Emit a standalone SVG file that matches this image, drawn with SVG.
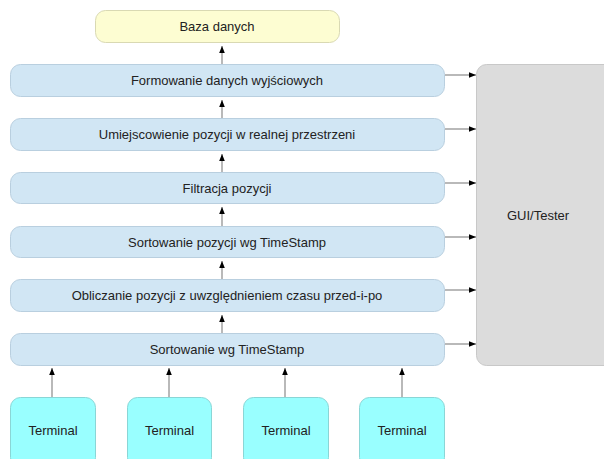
<svg xmlns="http://www.w3.org/2000/svg" width="604" height="459" viewBox="0 0 604 459">
<defs>
<style>
text{font-family:"Liberation Sans",Arial,sans-serif;font-size:13px;fill:#222;text-anchor:middle;dominant-baseline:central}
.layer{fill:#d1e6f4;stroke:#b9cfdf;stroke-width:1}
.db{fill:#fdfdd2;stroke:#d9d9b3;stroke-width:1}
.gui{fill:#dcdcdc;stroke:#c8c8c8;stroke-width:1}
.term{fill:#99ffff;stroke:#8ad6d6;stroke-width:1}
.conn{stroke:#8a8a8a;stroke-width:1.2;fill:none;marker-end:url(#ah)}
</style>
<marker id="ah" viewBox="0 0 10 10" refX="10" refY="5" markerWidth="8" markerHeight="7" markerUnits="userSpaceOnUse" orient="auto">
<path d="M0,1 L10,5 L0,9 Z" fill="#000"/>
</marker>
</defs>
<g id="baza"><rect class="db" x="95.5" y="10.5" width="244" height="32" rx="10"/><text x="217" y="26.5">Baza danych</text></g>
<g id="formowanie"><rect class="layer" x="10.5" y="64.5" width="434" height="32" rx="10"/><text x="227" y="80.5">Formowanie danych wyjściowych</text></g>
<g id="umiejscowienie"><rect class="layer" x="10.5" y="118.5" width="434" height="32" rx="10"/><text x="227" y="134.5">Umiejscowienie pozycji w realnej przestrzeni</text></g>
<g id="filtracja"><rect class="layer" x="10.5" y="172.5" width="434" height="31" rx="10"/><text x="227" y="188">Filtracja pozycji</text></g>
<g id="sortowanie-pozycji"><rect class="layer" x="10.5" y="226.5" width="434" height="31" rx="10"/><text x="227" y="242">Sortowanie pozycji wg TimeStamp</text></g>
<g id="obliczanie"><rect class="layer" x="10.5" y="279.5" width="434" height="32" rx="10"/><text x="227" y="295.5">Obliczanie pozycji z uwzględnieniem czasu przed-i-po</text></g>
<g id="sortowanie"><rect class="layer" x="10.5" y="333.5" width="434" height="32" rx="10"/><text x="227" y="349.5">Sortowanie wg TimeStamp</text></g>
<g id="gui"><rect class="gui" x="476.5" y="64.5" width="140" height="301" rx="10"/><text x="538" y="215">GUI/Tester</text></g>
<g id="terminal1"><rect class="term" x="10.5" y="397.5" width="85" height="70" rx="10"/><text x="53" y="430">Terminal</text></g>
<g id="terminal2"><rect class="term" x="127.5" y="397.5" width="84" height="70" rx="10"/><text x="169.5" y="430">Terminal</text></g>
<g id="terminal3"><rect class="term" x="243.5" y="397.5" width="85" height="70" rx="10"/><text x="286" y="430">Terminal</text></g>
<g id="terminal4"><rect class="term" x="359.5" y="397.5" width="85" height="70" rx="10"/><text x="402" y="430">Terminal</text></g>
<g id="connectors">
<line class="conn" x1="222" y1="64" x2="222" y2="46"/>
<line class="conn" x1="222" y1="118" x2="222" y2="100"/>
<line class="conn" x1="222" y1="172" x2="222" y2="154"/>
<line class="conn" x1="222" y1="226" x2="222" y2="207"/>
<line class="conn" x1="222" y1="279" x2="222" y2="261"/>
<line class="conn" x1="222" y1="333" x2="222" y2="315"/>
<line class="conn" x1="52" y1="397" x2="52" y2="368"/>
<line class="conn" x1="169" y1="397" x2="169" y2="368"/>
<line class="conn" x1="285" y1="397" x2="285" y2="368"/>
<line class="conn" x1="402" y1="397" x2="402" y2="368"/>
<line class="conn" x1="445" y1="75" x2="476" y2="75"/>
<line class="conn" x1="445" y1="129" x2="476" y2="129"/>
<line class="conn" x1="445" y1="183" x2="476" y2="183"/>
<line class="conn" x1="445" y1="237" x2="476" y2="237"/>
<line class="conn" x1="445" y1="290" x2="476" y2="290"/>
<line class="conn" x1="445" y1="344" x2="476" y2="344"/>
</g>
</svg>
